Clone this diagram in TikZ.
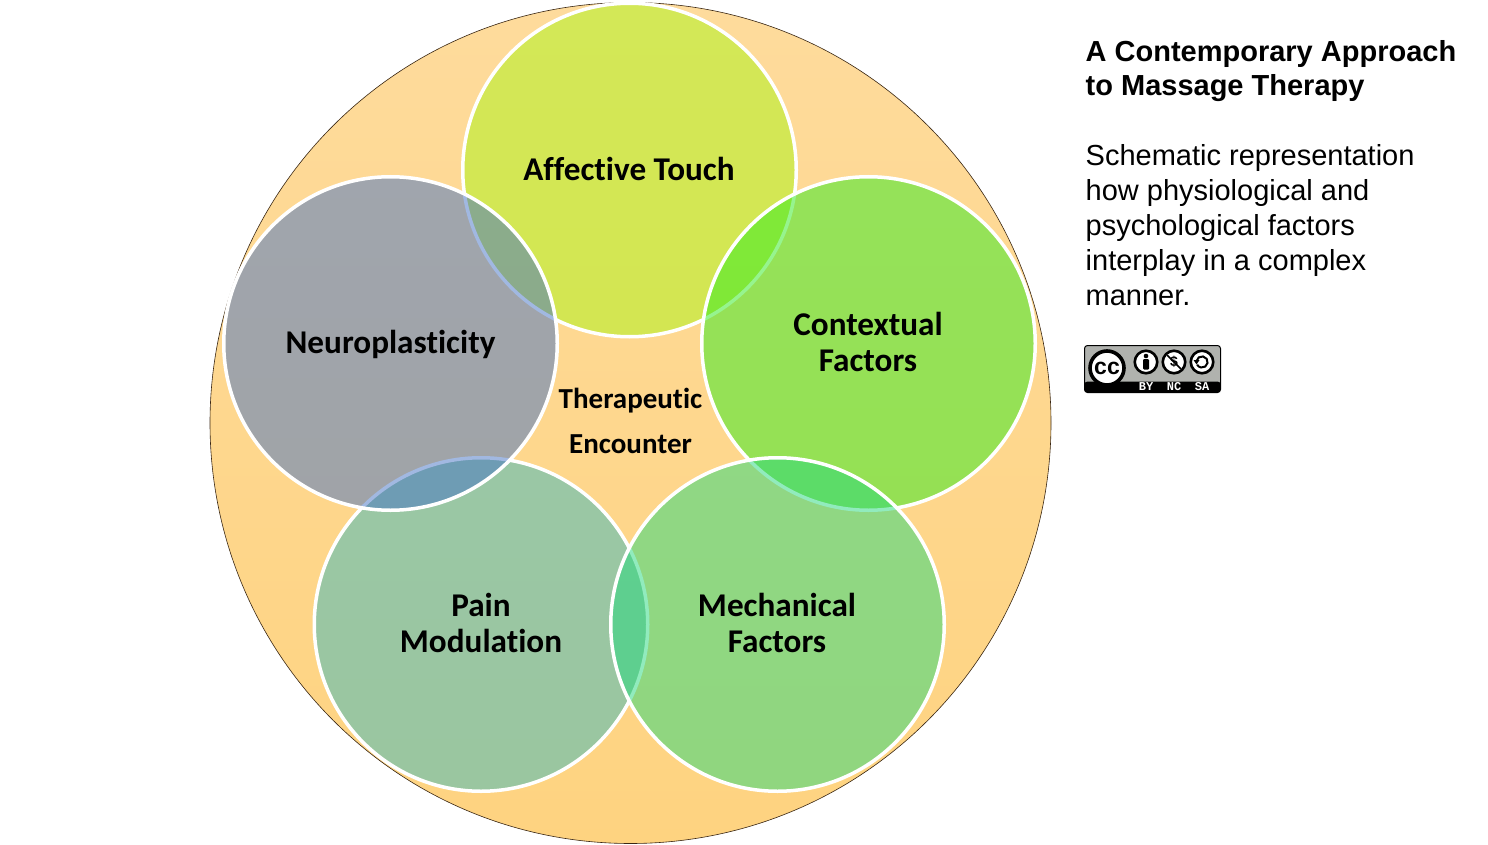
\documentclass[tikz,border=0pt]{standalone}
\usepackage{fontspec}
\setmainfont{Liberation Sans}
\setmonofont{Liberation Mono}
\newfontfamily\labelfont[Ligatures=NoCommon]{Carlito}
\usetikzlibrary{positioning}
\usetikzlibrary{calc}

\definecolor{encountertop}{RGB}{254,219,156}
\definecolor{encounterbot}{RGB}{254,211,128}
\definecolor{affectivefill}{RGB}{170,245,20}
\definecolor{contextfill}{RGB}{46,235,30}
\definecolor{painfill}{RGB}{56,185,190}
\definecolor{mechfill}{RGB}{36,217,125}
\definecolor{neurofill}{RGB}{68,114,196}
\definecolor{badgegray}{RGB}{176,178,174}

\tikzset{
  factor/.style={circle, draw=white, line width=3.5pt, fill opacity=0.5,
    inner sep=0, outer sep=0, minimum size=333.5pt},
  factorlabel/.style={inner sep=0, align=center,
    font=\labelfont\bfseries\fontsize{33.2}{36}\selectfont},
  heading/.style={anchor=north west, inner sep=0, align=left,
    font=\bfseries\fontsize{29}{34.5}\selectfont},
  bodytext/.style={anchor=north west, inner sep=0, align=left,
    font=\fontsize{29}{35}\selectfont},
  ccicon/.style={circle, draw=black, fill=white, line width=2.6pt, inner sep=0,
    minimum size=22.5pt, font=\bfseries\fontsize{14}{14}\selectfont},
  cctag/.style={text=white, inner sep=0, font=\ttfamily\bfseries\fontsize{12}{12}\selectfont}
}

\begin{document}
\begin{tikzpicture}[x=1pt,y=-1pt]
 \useasboundingbox (0,0) rectangle (1488,845);

 \node (encounter) at (630.5,423) [circle, minimum size=841pt, inner sep=0, outer sep=0,
   top color=encountertop, bottom color=encounterbot, draw=black!70!brown, line width=0.6pt] {};

 \node (affective) at (629.5,170) [factor, fill=affectivefill] {};
 \node (context) at (868.5,343.5) [factor, fill=contextfill] {};
 \node (pain) at (481,624.5) [factor, fill=painfill] {};
 \node (mech) at (777.5,624.5) [factor, fill=mechfill] {};
 \node (neuro) at (390.5,343.5) [factor, fill=neurofill] {};

 \node (affectivelabel) at (629,169) [factorlabel] {Affective Touch};
 \node (contextlabel) at (868,342) [factorlabel] {Contextual\\Factors};
 \node (painlabel) at (481,622.5) [factorlabel] {Pain\\Modulation};
 \node (mechlabel) at (777,622.5) [factorlabel] {Mechanical\\Factors};
 \node (neurolabel) at (390.5,344) [factorlabel] {Neuroplasticity};

 \node (therapeutic) at (630.5,420.5) [align=center, inner sep=0,
   font=\labelfont\bfseries\fontsize{29}{45}\selectfont] {Therapeutic\\Encounter};

 \node (title) at (1085.5,40) [heading] {A Contemporary Approach\\to Massage Therapy};
 \node (summary) [below=42pt of title.south west,anchor=north west,bodytext]
   {Schematic representation\\how physiological and\\psychological factors\\interplay in a complex\\manner.};

 \node (badge) at (1084.5,345.5) [anchor=north west, minimum width=136pt, minimum height=47pt,
   inner sep=0, outer sep=0, rounded corners=3pt, fill=badgegray, draw=black, line width=1pt] {};
 \fill [black, rounded corners=3pt] ($ (badge.south west) + (0,-11) $) rectangle (badge.south east);
 \node (cc) at (1107,368) [ccicon, minimum size=34pt, line width=3.6pt,
   font=\bfseries\fontsize{23}{23}\selectfont] {cc};
 \node (by) at (1146,362) [ccicon] {};
 \node (nc) at (1174,362) [ccicon] {\$};
 \node (sa) at (1202,362) [ccicon] {};
 \fill (by.center) ++(0,-6) circle (2.3);
 \fill [rounded corners=1pt] ($ (by.center) + (-3,-2.8) $) rectangle ($ (by.center) + (3,7.5) $);
 \draw [line width=1.6pt] ($ (nc.north west) + (2,2) $) -- ($ (nc.south east) + (-2,-2) $);
 \draw [line width=2pt] ($ (sa.center) + (-5.5,-1) $) arc [start angle=-170, end angle=150, radius=5.6];
 \fill ($ (sa.center) + (-8.5,-2) $) -- ($ (sa.center) + (-2.5,-2) $) -- ($ (sa.center) + (-5.5,2.5) $) -- cycle;
 \node (bytag) at (1146,386.5) [cctag] {BY};
 \node (nctag) at (1174,386.5) [cctag] {NC};
 \node (satag) at (1202,386.5) [cctag] {SA};
\end{tikzpicture}
\end{document}
